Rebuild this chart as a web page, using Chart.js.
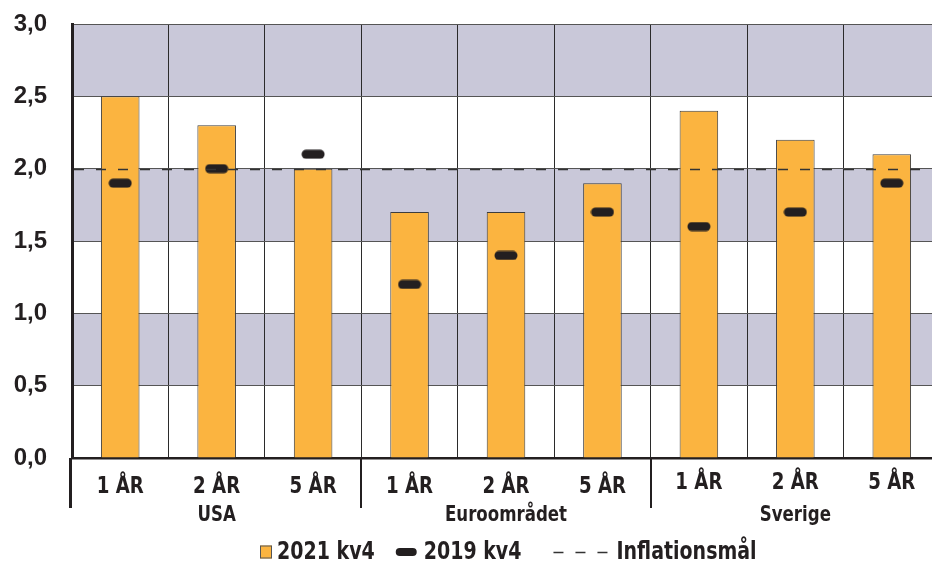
<!DOCTYPE html>
<html>
<head>
<meta charset="utf-8">
<script src="https://cdn.jsdelivr.net/npm/chart.js@4/dist/chart.umd.min.js"></script>
<style>
  html, body { margin: 0; padding: 0; background: #fff; overflow: hidden; width: 932px; height: 565px; }
  #wrap { position: relative; width: 947px; height: 565px; }
</style>
</head>
<body>
<div id="wrap">
  <canvas id="c" width="947" height="565"></canvas>
</div>
<script>
// Inflation expectations by horizon and region
const groups = ['USA', 'Euroområdet', 'Sverige'];
const horizons = ['1 ÅR', '2 ÅR', '5 ÅR'];
const values2021 = [2.5, 2.3, 2.0, 1.7, 1.7, 1.9, 2.4, 2.2, 2.1];
const values2019 = [1.9, 2.0, 2.1, 1.2, 1.4, 1.7, 1.6, 1.7, 1.9];
const inflationTarget = 2.0;
const yTicks = [0, 0.5, 1.0, 1.5, 2.0, 2.5, 3.0];
const seriesNames = ['2021 kv4', '2019 kv4', 'Inflationsmål'];

const categories = [];
groups.forEach(() => horizons.forEach(h => categories.push(h)));

const ink = '#231f20';
const barFill = '#fbb440';
const labelFont = '"Liberation Sans Narrow", "DejaVu Sans Condensed", sans-serif';
const squeeze = 0.88;

// pill-shaped marker for the 2019 values
const pill = document.createElement('canvas');
pill.width = 24; pill.height = 10;
(function () {
  const g = pill.getContext('2d');
  g.fillStyle = ink;
  g.beginPath();
  g.roundRect(0.5, 0.5, 23, 9, 4.5);
  g.fill();
})();

// condensed bold text: draw with a horizontal squeeze
function narrowText(ctx, text, x, y, align) {
  const w = ctx.measureText(text).width * squeeze;
  let left = x;
  if (align === 'center') left = x - w / 2;
  ctx.save();
  ctx.translate(left, y);
  ctx.scale(squeeze, 1);
  ctx.textAlign = 'left';
  ctx.fillText(text, 0, 0);
  ctx.restore();
  return w;
}

// alternating background bands
const bandsPlugin = {
  id: 'bands',
  beforeDraw(chart) {
    const { ctx, chartArea, scales: { y } } = chart;
    ctx.save();
    ctx.fillStyle = '#c9c8d9';
    for (let i = 0; i < yTicks.length - 1; i++) {
      if (i % 2 === 1) {
        const top = y.getPixelForValue(yTicks[i + 1]);
        const bot = y.getPixelForValue(yTicks[i]);
        ctx.fillRect(chartArea.left, top, chartArea.right - chartArea.left, bot - top);
      }
    }
    ctx.restore();
  }
};

// target line, category labels, group separators and legend
const extrasPlugin = {
  id: 'extras',
  afterDatasetsDraw(chart) {
    const { ctx, chartArea, scales: { y } } = chart;
    const ty = Math.round(y.getPixelForValue(inflationTarget)) + 0.5;
    ctx.save();
    ctx.strokeStyle = '#333';
    ctx.lineWidth = 1.3;
    ctx.setLineDash([10, 12]);
    ctx.beginPath();
    ctx.moveTo(chartArea.left + 2, ty);
    ctx.lineTo(chartArea.right, ty);
    ctx.stroke();
    ctx.restore();
  },
  afterDraw(chart) {
    const { ctx, chartArea, scales: { x } } = chart;
    const bottom = chartArea.bottom;
    const step = x.getPixelForValue(1) - x.getPixelForValue(0);
    ctx.save();
    // group separators below the axis
    ctx.strokeStyle = ink;
    ctx.lineWidth = 2;
    for (let gi = 1; gi < groups.length; gi++) {
      const px = Math.round(x.getPixelForValue(gi * horizons.length) - step / 2);
      ctx.beginPath();
      ctx.moveTo(px, bottom);
      ctx.lineTo(px, bottom + 50);
      ctx.stroke();
    }
    ctx.lineWidth = 3;
    ctx.beginPath();
    ctx.moveTo(chartArea.left - 1.5, bottom);
    ctx.lineTo(chartArea.left - 1.5, bottom + 50);
    ctx.stroke();

    // category and group labels
    ctx.fillStyle = ink;
    ctx.textBaseline = 'middle';
    ctx.font = 'bold 23px ' + labelFont;
    categories.forEach((lab, i) => {
      const off = i >= 6 ? -4 : 0;
      narrowText(ctx, lab, x.getPixelForValue(i), bottom + 29 + off, 'center');
    });
    ctx.font = 'bold 21px ' + labelFont;
    groups.forEach((g, gi) => {
      narrowText(ctx, g, x.getPixelForValue(gi * horizons.length + 1), bottom + 58, 'center');
    });

    // legend row
    const ly = 552;
    let lx = 260;
    ctx.font = 'bold 24px ' + labelFont;
    ctx.fillStyle = barFill;
    ctx.fillRect(lx, ly - 6.5, 12, 13);
    ctx.strokeStyle = '#555';
    ctx.lineWidth = 1;
    ctx.strokeRect(lx + 0.5, ly - 6, 11, 12);
    lx += 17;
    ctx.fillStyle = ink;
    lx += narrowText(ctx, seriesNames[0], lx, ly + 1, 'left') + 21;
    ctx.beginPath();
    ctx.roundRect(lx, ly - 4, 21, 8, 4);
    ctx.fill();
    lx += 28;
    lx += narrowText(ctx, seriesNames[1], lx, ly + 1, 'left') + 32;
    ctx.strokeStyle = '#333';
    ctx.lineWidth = 1.3;
    ctx.setLineDash([10, 12]);
    ctx.beginPath();
    ctx.moveTo(lx, ly + 0.5);
    ctx.lineTo(lx + 55, ly + 0.5);
    ctx.stroke();
    ctx.setLineDash([]);
    lx += 63;
    narrowText(ctx, seriesNames[2], lx, ly + 1, 'left');
    ctx.restore();
  }
};

new Chart(document.getElementById('c'), {
  data: {
    labels: categories,
    datasets: [
      {
        type: 'line',
        label: seriesNames[1],
        data: values2019,
        showLine: false,
        pointStyle: pill,
        pointRadius: 6,
        order: 0
      },
      {
        type: 'bar',
        label: seriesNames[0],
        data: values2021,
        backgroundColor: barFill,
        borderColor: '#3d3d3d',
        borderWidth: 1,
        barPercentage: 0.4,
        categoryPercentage: 1.0,
        order: 1
      }
    ]
  },
  options: {
    responsive: false,
    animation: false,
    events: [],
    layout: { padding: { top: 24, right: 0, left: 0, bottom: 0 } },
    plugins: { legend: { display: false }, tooltip: { enabled: false } },
    scales: {
      x: {
        offset: true,
        grid: { display: true, offset: true, color: '#2b2b2b', lineWidth: 1, drawTicks: false },
        border: { display: true, color: ink, width: 2.5 },
        ticks: { display: false },
        afterFit(s) { s.height = 107; }
      },
      y: {
        min: 0,
        max: 3,
        afterBuildTicks(s) { s.ticks = yTicks.map(v => ({ value: v })); },
        grid: { color: '#555', lineWidth: 1, drawTicks: false },
        border: { display: true, color: ink, width: 3 },
        ticks: {
          padding: 25,
          color: ink,
          font: { family: '"Liberation Sans", Arial, sans-serif', weight: 'bold', size: 24 },
          callback: v => v.toFixed(1).replace('.', ',')
        },
        afterFit(s) { s.width = 72; s.paddingTop = 0; s.paddingBottom = 0; }
      }
    }
  },
  plugins: [bandsPlugin, extrasPlugin]
});
</script>
</body>
</html>
